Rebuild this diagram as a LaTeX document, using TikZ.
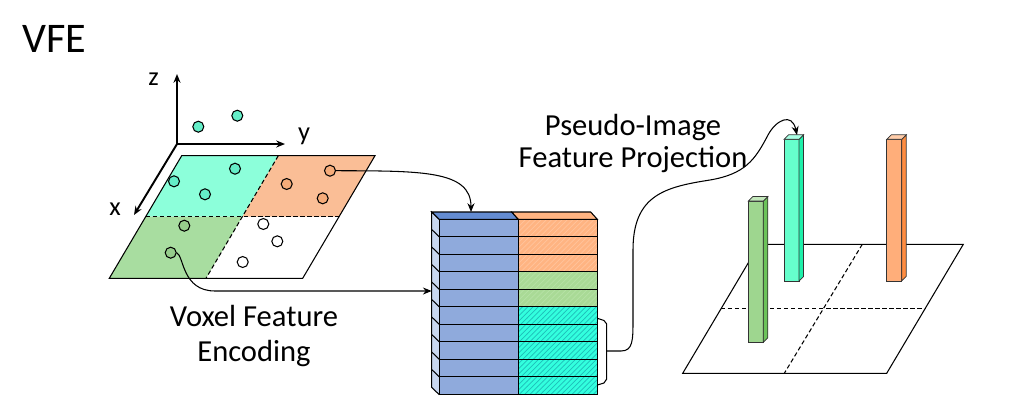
\documentclass[tikz,border=0pt]{standalone}
\usepackage{fontspec}
\setmainfont{Carlito}
\usetikzlibrary{arrows.meta,patterns}
\definecolor{cellcyan}{RGB}{140,255,218}
\definecolor{cellorange}{RGB}{250,190,150}
\definecolor{cellgreen}{RGB}{168,221,160}
\definecolor{ptcyan}{RGB}{100,238,200}
\definecolor{ptorange}{RGB}{245,172,122}
\definecolor{ptgreen}{RGB}{150,205,140}
\definecolor{stackblue}{RGB}{143,170,220}
\definecolor{stacktopblue}{RGB}{100,140,210}
\definecolor{stacksideblue}{RGB}{200,215,240}
\definecolor{rowor}{RGB}{255,180,130}
\definecolor{rowgr}{RGB}{169,218,150}
\definecolor{rowcy}{RGB}{50,255,222}
\definecolor{hator}{RGB}{255,196,156}
\definecolor{hatgr}{RGB}{182,226,166}
\definecolor{hatcy}{RGB}{30,190,185}
\definecolor{pilgreen}{RGB}{158,214,143}
\definecolor{pilgreenside}{RGB}{108,195,90}
\definecolor{pilgreentop}{RGB}{196,232,188}
\definecolor{pilcyan}{RGB}{102,255,204}
\definecolor{pilcyanside}{RGB}{30,240,170}
\definecolor{pilcyantop}{RGB}{170,255,228}
\definecolor{pilorange}{RGB}{255,174,122}
\definecolor{pilorangeside}{RGB}{255,140,64}
\definecolor{pilorangetop}{RGB}{255,205,170}
\tikzset{
  pt/.style={circle,draw,inner sep=0pt,minimum size=0.22cm,line width=0.6pt},
  cut/.style={dash pattern=on 2.5pt off 1.5pt},
  axis/.style={line width=1.1pt,-{Stealth[length=5pt,width=4pt]}},
  link/.style={line width=0.6pt,-{Stealth[length=5pt,width=4pt]}},
  lbl/.style={inner sep=0pt,font=\fontsize{17.4}{19.8}\selectfont},
  axlbl/.style={inner sep=0pt,anchor=base,font=\fontsize{15}{18}\selectfont}
}
\newcommand{\pillar}[6]{
  \draw[gray!40!black,line width=0.4pt,fill=#4] (#1,#2) rectangle (#1+15,#3);
  \draw[gray!40!black,line width=0.4pt,fill=#5] (#1+15,#2) -- ++(4.5,-4.5) -- (#1+19.5,#3-4.5) -- (#1+15,#3) -- cycle;
  \draw[gray!40!black,line width=0.4pt,fill=#6] (#1,#2) -- ++(4.5,-4.5) -- ++(15,0) -- ++(-4.5,4.5) -- cycle;
}
\begin{document}
\begin{tikzpicture}
[x=0.02cm,y=-0.02cm,line width=0.6pt]
\useasboundingbox (0,0) rectangle (1015,413);
\node[anchor=base west,inner sep=0pt,font=\fontsize{24}{28}\selectfont] (title) at (22,52) {VFE};

\fill[cellcyan] (181.7,155.7) -- (278.3,155.7) -- (242.3,216.7) -- (145.7,216.7) -- cycle;
\fill[cellorange] (278.3,155.7) -- (375,155.7) -- (339.3,216.7) -- (242.3,216.7) -- cycle;
\fill[cellgreen] (145.7,216.7) -- (242.3,216.7) -- (206,278.3) -- (109.3,278.3) -- cycle;
\draw (181.7,155.7) -- (375,155.7) -- (302.7,278.3) -- (109.3,278.3) -- cycle;
\draw[cut] (145.7,216.7) -- (339.3,216.7);
\draw[cut] (278.3,155.7) -- (206,278.3);

\coordinate (o) at (177,144);
\coordinate (zend) at (177,74);
\coordinate (yend) at (285,144);
\coordinate (xend) at (134,215);
\draw[axis] (o) -- (zend);
\draw[axis] (o) -- (yend);
\draw[axis] (o) -- (xend);
\node[axlbl] (zlbl) at (153.5,85) {z};
\node[axlbl] (ylbl) at (304,140) {y};
\node[axlbl] (xlbl) at (115,215) {x};

\node[pt,fill=ptcyan] (c1) at (198.3,126.7) {};
\node[pt,fill=ptcyan] (c2) at (237.3,115.7) {};
\node[pt,fill=ptcyan] (c3) at (235,168.7) {};
\node[pt,fill=ptcyan] (c4) at (174,181.3) {};
\node[pt,fill=ptcyan] (c5) at (205,194.3) {};
\node[pt,fill=ptorange] (o1) at (330,170.7) {};
\node[pt,fill=ptorange] (o2) at (286.7,184) {};
\node[pt,fill=ptorange] (o3) at (322.7,198.3) {};
\node[pt,fill=ptgreen] (g1) at (184.3,225.7) {};
\node[pt,fill=ptgreen] (g2) at (170.7,252.7) {};
\node[pt,fill=white] (w1) at (263.3,224) {};
\node[pt,fill=white] (w2) at (277.3,241.3) {};
\node[pt,fill=white] (w3) at (242.7,262) {};

\node[lbl,align=center,anchor=base] (vfetext) at (254,361.7) {Voxel Feature\\Encoding};
\node[lbl,align=center,anchor=base,font=\fontsize{17.4}{18.1}\selectfont] (projtext) at (633,167) {Pseudo-Image\\Feature Projection};

\fill[stacksideblue] (439.3,219.3) -- (431.7,212) -- (431.7,387.4) -- (439.3,394.7) -- cycle;
\foreach \i in {1,...,9}
  \draw (439.3,219.3+17.5*\i) -- ++(-7.6,-7.3);
\draw (439.3,219.3) -- (431.7,212) -- (431.7,387.4) -- (439.3,394.7);
\foreach \i/\c/\h in {0/rowor/hator,1/rowor/hator,2/rowor/hator,3/rowgr/hatgr,4/rowgr/hatgr,5/rowcy/hatcy,6/rowcy/hatcy,7/rowcy/hatcy,8/rowcy/hatcy,9/rowcy/hatcy}
  \fill[\c,postaction={pattern=north east lines,pattern color=\h}] (518.3,219.3+17.5*\i) rectangle ++(79,17.5);
\foreach \i in {0,...,9}{
  \draw[fill=stackblue] (439.3,219.3+17.5*\i) rectangle ++(79,17.5);
  \draw (518.3,219.3+17.5*\i) rectangle ++(79,17.5);
}
\draw[fill=stacktopblue] (431.7,212) -- (511.7,212) -- (518.3,219.3) -- (439.3,219.3) -- cycle;
\draw[fill=rowor] (511.7,212) -- (590.7,212) -- (597.3,219.3) -- (518.3,219.3) -- cycle;
\coordinate (stacktop) at (471,212);
\coordinate (stackleft) at (431.7,291);
\coordinate (brace) at (606.7,351);
\draw (597.3,318.3) -- (604,320.5) -- (606.7,324) -- (606.7,379) -- (604,383) -- (597.3,385);

\draw[link] (o1.east) .. controls (420,171) and (471,170) .. (stacktop);
\draw[link] (g2.east) .. controls (184,256) and (182,291) .. (215,291) -- (stackleft);

\draw (759.3,244.3) -- (963.3,244.3) -- (886.7,373.3) -- (682.7,373.3) -- cycle;
\draw[cut] (720.7,308.8) -- (925,308.8);
\draw[cut] (862.3,244.3) -- (784.3,373.3);
\pillar{748.3}{201}{342.3}{pilgreen}{pilgreenside}{pilgreentop}
\pillar{784}{139.3}{281}{pilcyan}{pilcyanside}{pilcyantop}
\pillar{886.7}{139.3}{281}{pilorange}{pilorangeside}{pilorangetop}
\coordinate (cyantop) at (797,135);

\draw[link] (brace) -- (621,351) .. controls (633,351) and (633,340) .. (633,320) -- (633,250) .. controls (633,195) and (665,187) .. (710,180) .. controls (745,174) and (755,160) .. (768,135) .. controls (776,120) and (792,112) .. (cyantop);
\end{tikzpicture}
\end{document}
